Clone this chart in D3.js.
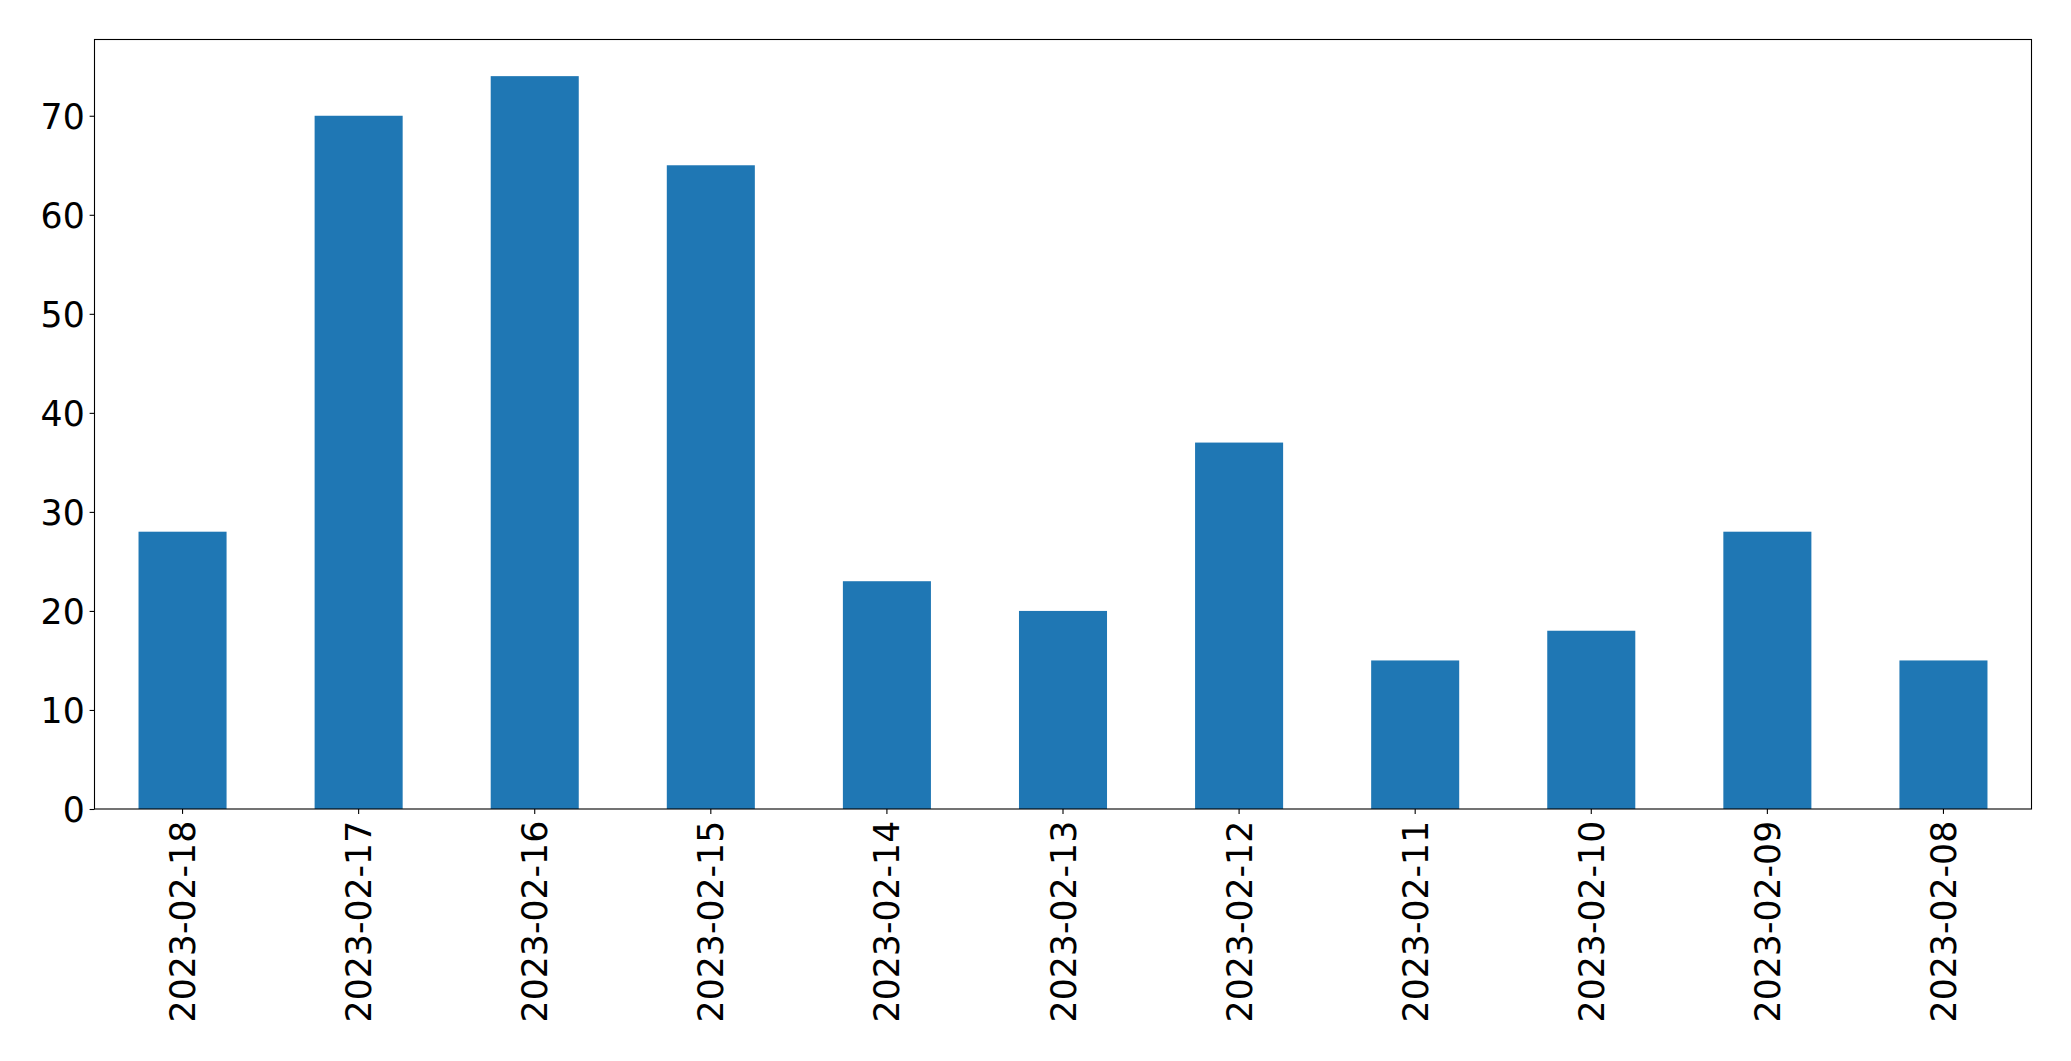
<!DOCTYPE html>
<html>
<head>
<meta charset="utf-8">
<script src="https://cdn.jsdelivr.net/npm/d3@7"></script>
<style>
html,body{margin:0;padding:0;background:#fff;}
svg{display:block;}
text{font-family:"DejaVu Sans",sans-serif;}
</style>
</head>
<body>
<svg id="chart" width="2071" height="1061"></svg>
<script>
const categories = ["2023-02-18","2023-02-17","2023-02-16","2023-02-15","2023-02-14","2023-02-13","2023-02-12","2023-02-11","2023-02-10","2023-02-09","2023-02-08"];
const values = [28, 70, 74, 65, 23, 20, 37, 15, 18, 28, 15];
const yTicks = [0, 10, 20, 30, 40, 50, 60, 70];

const svg = d3.select("#chart");
const margin = {left: 94.5, top: 39.5, right: 2031.5, bottom: 809};
const fontSize = 34.7;
const tickLen = 4.9, tickPad = 4.9;

const x = d3.scaleBand().domain(categories)
  .range([margin.left, margin.right])
  .paddingInner(0.5).paddingOuter(0.25);
const yMax = d3.max(values) * 1.05;
const y = d3.scaleLinear().domain([0, yMax]).range([margin.bottom, margin.top]);

// bars
svg.append("g").selectAll("rect").data(values).join("rect")
  .attr("x", (d, i) => x(categories[i]))
  .attr("y", d => y(d))
  .attr("width", x.bandwidth())
  .attr("height", d => y(0) - y(d))
  .attr("fill", "#1f77b4");

// y axis
const yAxis = d3.axisLeft(y).tickValues(yTicks).tickSize(tickLen).tickPadding(tickPad).tickFormat(d3.format("d"));
const gy = svg.append("g").attr("transform", `translate(${margin.left},0)`).call(yAxis);
gy.select(".domain").remove();
gy.selectAll("line").attr("stroke", "#000").attr("stroke-width", 1.1);
gy.selectAll("text").attr("font-size", fontSize).attr("fill", "#000")
  .attr("font-family", "DejaVu Sans").attr("dy", "0.36em");

// x axis
const xAxis = d3.axisBottom(x).tickSize(tickLen).tickPadding(tickPad);
const gx = svg.append("g").attr("transform", `translate(0,${margin.bottom})`).call(xAxis);
gx.select(".domain").remove();
gx.selectAll("line").attr("stroke", "#000").attr("stroke-width", 1.1);
gx.selectAll("text")
  .attr("font-size", fontSize).attr("fill", "#000").attr("font-family", "DejaVu Sans")
  .attr("text-anchor", "end")
  .attr("transform", `rotate(-90)`)
  .attr("x", -(tickLen + tickPad + 2))
  .attr("y", 0)
  .attr("dy", "0.36em");

// frame
svg.append("rect")
  .attr("x", margin.left).attr("y", margin.top)
  .attr("width", margin.right - margin.left)
  .attr("height", margin.bottom - margin.top)
  .attr("fill", "none").attr("stroke", "#000").attr("stroke-width", 1.1);
</script>
</body>
</html>
